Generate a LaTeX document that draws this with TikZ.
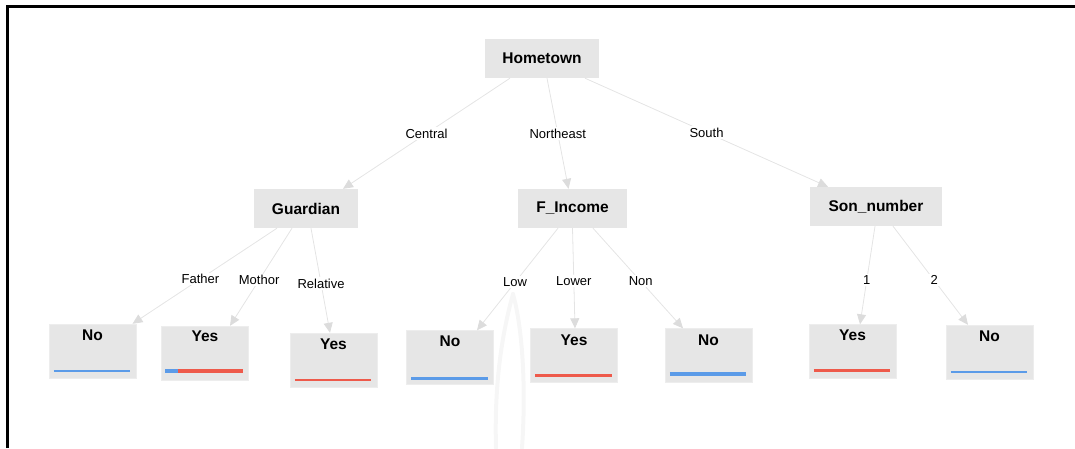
\documentclass[tikz,border=0pt]{standalone}
\usepackage{fontspec}
\setmainfont{Liberation Sans}
\usetikzlibrary{arrows.meta}
\definecolor{boxgray}{HTML}{E6E6E6}
\definecolor{edgegray}{HTML}{E4E4E4}
\definecolor{tipgray}{HTML}{DCDCDC}
\definecolor{barblue}{HTML}{5B9BE8}
\definecolor{barred}{HTML}{EE5A4B}
\definecolor{wmgray}{HTML}{F6F6F6}
\begin{document}
\begin{tikzpicture}[x=1pt,y=-1pt,
  inner/.style={rectangle, fill=boxgray, minimum height=39pt, inner sep=0pt,
    font=\fontsize{15.5}{18}\selectfont\bfseries},
  leaf/.style={rectangle, fill=boxgray, draw=boxgray!70, minimum width=87pt,
    minimum height=54pt, inner sep=0pt},
  leaftext/.style={inner sep=0pt, font=\fontsize{15.5}{18}\selectfont\bfseries},
  edge/.style={draw=edgegray, line width=0.8pt,
    -{Triangle[length=10pt,width=9pt,color=tipgray]}},
  lbl/.style={fill=white, inner sep=1.5pt, pos=0.5,
    font=\fontsize{13}{15}\selectfont},
  bar/.style={line width=2.5pt},
  thickbar/.style={line width=4pt},
  wm/.style={draw=wmgray, line width=4pt, line cap=round}]
\useasboundingbox (0,0) rectangle (1075,448);

% faint watermark
\draw[wm] (513,294) .. controls (503,330) and (494,380) .. (496,448);
\draw[wm] (513,294) .. controls (523,330) and (526,390) .. (522,448);

% frame
\draw[line width=3pt, line join=miter] (7.5,448) -- (7.5,6) -- (1075,6);

% decision nodes
\node[inner, minimum width=114pt] (home)  at (542,58.5) {Hometown};
\node[inner, minimum width=104pt] (guard) at (306,208.5) {Guardian};
\node[inner, minimum width=109pt] (finc)  at (572.5,208.5) {F\_Income};
\node[inner, minimum width=132pt] (son)   at (876,206.5) {Son\_number};

% leaves
\node[leaf] (l1) at (92.5,351) {};
\node[leaf] (l2) at (205,353) {};
\node[leaf] (l3) at (333.5,360) {};
\node[leaf] (l4) at (450,357.5) {};
\node[leaf] (l5) at (574,355.5) {};
\node[leaf] (l6) at (708.5,355.5) {};
\node[leaf] (l7) at (852.5,351.5) {};
\node[leaf] (l8) at (989.5,352) {};

\node[leaftext] (t1) at ([yshift=-11pt]l1.north) {No};
\node[leaftext] (t2) at ([yshift=-10pt]l2.north) {Yes};
\node[leaftext] (t3) at ([yshift=-11pt]l3.north) {Yes};
\node[leaftext] (t4) at ([yshift=-11pt]l4.north) {No};
\node[leaftext] (t5) at ([yshift=-12pt]l5.north) {Yes};
\node[leaftext] (t6) at ([yshift=-12pt]l6.north) {No};
\node[leaftext] (t7) at ([yshift=-11pt]l7.north) {Yes};
\node[leaftext] (t8) at ([yshift=-11pt]l8.north) {No};

% class bars
\draw[bar, barblue] ([xshift=5pt,yshift=7pt]l1.south west) -- ([xshift=-6pt,yshift=7pt]l1.south east);
\draw[thickbar, barblue] ([xshift=4pt,yshift=9pt]l2.south west) -- ([xshift=17pt,yshift=9pt]l2.south west);
\draw[thickbar, barred] ([xshift=17pt,yshift=9pt]l2.south west) -- ([xshift=-6pt,yshift=9pt]l2.south east);
\draw[bar, barred] ([xshift=5pt,yshift=7pt]l3.south west) -- ([xshift=-6pt,yshift=7pt]l3.south east);
\draw[bar, barblue] ([xshift=5pt,yshift=6pt]l4.south west) -- ([xshift=-6pt,yshift=6pt]l4.south east);
\draw[bar, barred] ([xshift=5pt,yshift=7pt]l5.south west) -- ([xshift=-6pt,yshift=7pt]l5.south east);
\draw[thickbar, barblue] ([xshift=5pt,yshift=9pt]l6.south west) -- ([xshift=-6pt,yshift=9pt]l6.south east);
\draw[bar, barred] ([xshift=5pt,yshift=8pt]l7.south west) -- ([xshift=-6pt,yshift=8pt]l7.south east);
\draw[bar, barblue] ([xshift=5pt,yshift=7pt]l8.south west) -- ([xshift=-6pt,yshift=7pt]l8.south east);

% branches
\draw[edge] ([xshift=-32pt]home.south) -- node[lbl]{Central} ([xshift=37pt]guard.north);
\draw[edge] ([xshift=5pt]home.south) -- node[lbl]{Northeast} ([xshift=-4pt]finc.north);
\draw[edge] ([xshift=43pt]home.south) -- node[lbl]{South} ([xshift=-48pt]son.north);

\draw[edge] ([xshift=-29pt]guard.south) -- node[lbl, pos=0.53]{Father} ([xshift=40pt]l1.north);
\draw[edge] ([xshift=-14pt]guard.south) -- node[lbl, pos=0.53]{Mothor} ([xshift=25pt]l2.north);
\draw[edge] ([xshift=5pt]guard.south) -- node[lbl, pos=0.53]{Relative} ([xshift=-3.5pt]l3.north);

\draw[edge] ([xshift=-14.5pt]finc.south) -- node[lbl, pos=0.53]{Low} ([xshift=27pt]l4.north);
\draw[edge] ([xshift=0pt]finc.south) -- node[lbl, pos=0.53]{Lower} ([xshift=1pt]l5.north);
\draw[edge] ([xshift=20.5pt]finc.south) -- node[lbl, pos=0.53]{Non} ([xshift=-25.5pt]l6.north);

\draw[edge] ([xshift=-1pt]son.south) -- node[lbl, pos=0.55]{1} ([xshift=7.5pt]l7.north);
\draw[edge] ([xshift=17pt]son.south) -- node[lbl, pos=0.55]{2} ([xshift=-21.5pt]l8.north);
\end{tikzpicture}
\end{document}
